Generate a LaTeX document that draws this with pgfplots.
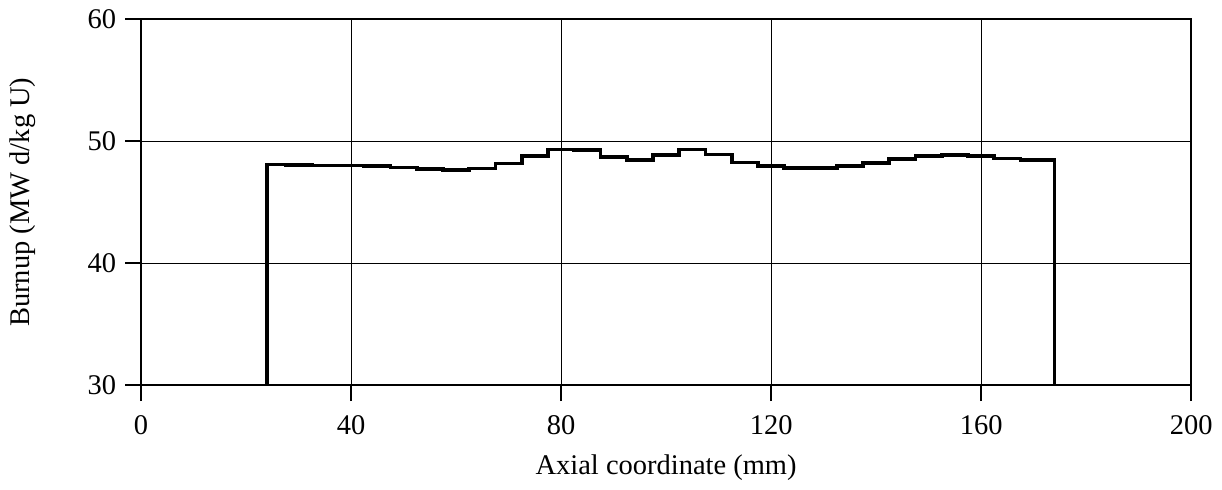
\documentclass[border=0pt]{standalone}
\usepackage{pgfplots}
\pgfplotsset{compat=1.18}
\usepackage{fontspec}
\setmainfont{Liberation Serif}
\begin{document}
\fontsize{14.2}{17}\selectfont
\begin{tikzpicture}
\begin{axis}[
  scale only axis,
  width=523.5pt, height=182.5pt,
  xmin=0, xmax=200, ymin=30, ymax=60,
  xtick={0,40,80,120,160,200},
  ytick={30,40,50,60},
  xtick pos=bottom, ytick pos=left,
  grid=major,
  major grid style={black, line width=0.5pt},
  axis line style={black, line width=1pt},
  tick align=outside,
  major tick length=8pt,
  tick style={black, line width=1pt},
  /pgf/number format/assume math mode=true,
  ticklabel style={font=\fontsize{14.2}{17}\selectfont},
  xticklabel style={yshift=-2pt},
  yticklabel style={xshift=0.5pt},
  label style={font=\fontsize{14.2}{17}\selectfont},
  xlabel={Axial coordinate (mm)},
  ylabel={Burnup (MW d/kg U)},
  xlabel style={at={(axis description cs:0.5,-0.2247)}, anchor=center},
  ylabel style={at={(axis description cs:-0.113,0.5)}, anchor=center},
]
\addplot[const plot mark left, black, line width=1.8pt, line join=miter] coordinates {
(24,30)
(24,48.09)
(27.5,48.03)
(32.5,48.0)
(37.5,48.0)
(42.5,47.98)
(47.5,47.84)
(52.5,47.73)
(57.5,47.65)
(62.5,47.75)
(67.5,48.17)
(72.5,48.77)
(77.5,49.3)
(82.5,49.25)
(87.5,48.7)
(92.5,48.46)
(97.5,48.87)
(102.5,49.3)
(107.5,48.9)
(112.5,48.25)
(117.5,47.95)
(122.5,47.8)
(127.5,47.82)
(132.5,47.97)
(137.5,48.2)
(142.5,48.52)
(147.5,48.77)
(152.5,48.88)
(157.5,48.77)
(162.5,48.58)
(167.5,48.46)
(174,48.46)
(174,30)
};
\end{axis}
\end{tikzpicture}
\end{document}
